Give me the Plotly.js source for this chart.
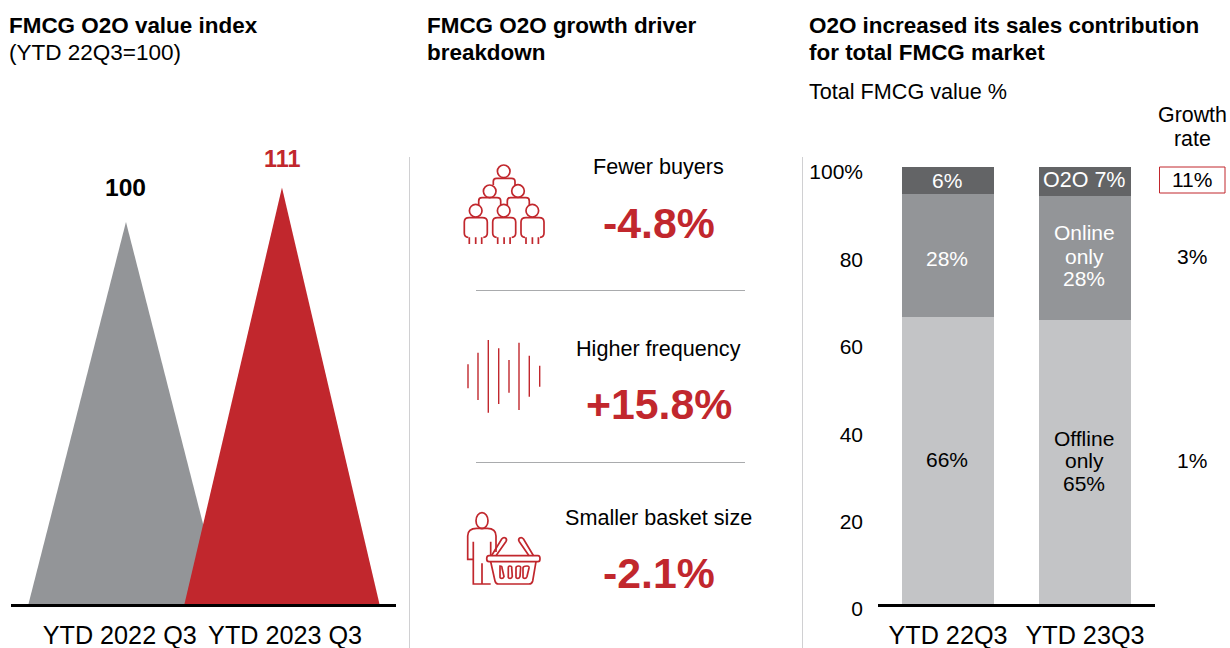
<!DOCTYPE html>
<html><head><meta charset="utf-8">
<script src="https://cdn.plot.ly/plotly-3.0.1.min.js"></script>
<style>html,body{margin:0;padding:0;background:#fff}</style></head>
<body><div id="chart" style="width:1230px;height:648px"></div>
<script>
// ---- data ----
const indexPeriods = ['YTD 2022 Q3', 'YTD 2023 Q3'];
const indexLabels = ['100', '111'];
const indexHeights = [100, 109];
const shareCategories = ['YTD 22Q3', 'YTD 23Q3'];
const offlineShare = [65.7, 65.0];
const onlineShare = [28.1, 28.4];
const o2oShare = [6.2, 6.6];
const shareTicks = [0, 20, 40, 60, 80, 100];
const shareTickText = ['0', '20', '40', '60', '80', '100%'];
const growthRates = ['11%', '3%', '1%'];
const driverNames = ['Fewer buyers', 'Higher frequency', 'Smaller basket size'];
const driverValues = ['-4.8%', '+15.8%', '-2.1%'];

// ---- style ----
const RED = '#c1272d', GREY = '#939598', DARK = '#636466', LIGHT = '#c3c4c6', INK = '#000000';
const FONT = '"Liberation Sans", Arial, sans-serif';
const W = 1230, H = 648;
const dx = (a, b) => [a / W, b / W];
const dy = (top, bot) => [1 - bot / H, 1 - top / H];

// ---- text helper (page-pixel overlay axes) ----
const anns = [];
function txt(t, x, y, size, o = {}) {
  const left = o.anchor === 'left';
  anns.push({ text: o.bold ? '<b>' + t + '</b>' : t, x: left ? x - 2 : x, y: y - 1, xref: 'x4', yref: 'y4',
    xanchor: o.anchor || 'center', yanchor: 'middle', showarrow: false,
    font: { family: FONT, size, color: o.color || INK } });
}
// titles
txt('FMCG O2O value index', 9, 26, 22.45, { bold: 1, anchor: 'left' });
txt('(YTD 22Q3=100)', 9, 53, 22.5, { anchor: 'left' });
txt('FMCG O2O growth driver', 427, 26, 22.45, { bold: 1, anchor: 'left' });
txt('breakdown', 427, 53, 22.45, { bold: 1, anchor: 'left' });
txt('O2O increased its sales contribution', 809, 26, 22.45, { bold: 1, anchor: 'left' });
txt('for total FMCG market', 809, 53, 22.45, { bold: 1, anchor: 'left' });
txt('Total FMCG value %', 809, 92, 21.6, { anchor: 'left' });
txt('Growth', 1192, 116, 21.4); txt('rate', 1192, 140, 21.4);
// triangle labels
txt(indexLabels[0], 125.5, 188, 24.6, { bold: 1 });
txt(indexLabels[1], 282, 160, 23.4, { bold: 1, color: RED });
// drivers
[[167, 224], [349, 405], [518, 574]].forEach((p, i) => {
  txt(driverNames[i], 658.5, p[0], 21.6);
  txt(driverValues[i], 658.5, p[1], 42.8, { bold: 1, color: RED });
});
// growth
[180, 257, 461].forEach((y, i) => txt(growthRates[i], 1192, y, 21));
// stacked bar labels
txt('6%', 947, 181, 21, { color: '#fff' });
txt('O2O 7%', 1084, 181, 21.5, { color: '#fff' });
txt('28%', 947, 259, 21, { color: '#fff' });
txt('Online', 1084, 233, 21, { color: '#fff' });
txt('only', 1084, 257, 21, { color: '#fff' });
txt('28%', 1084, 279, 21, { color: '#fff' });
txt('66%', 947, 460, 21);
txt('Offline', 1084, 439, 21);
txt('only', 1084, 461, 21);
txt('65%', 1084, 484, 21);

// ---- decorative shapes & icons ----
const shapes = [];
function line(x0, y0, x1, y1, color, width) {
  shapes.push({ type: 'line', xref: 'x4', yref: 'y4', x0, y0, x1, y1, line: { color, width } });
}
function icon(path, width = 1.7) {
  shapes.push({ type: 'path', xref: 'x4', yref: 'y4', path, line: { color: RED, width } });
}
function circlePath(cx, cy, rx, ry = rx) {
  const k = 0.5523, a = rx * k, b = ry * k;
  return `M ${cx - rx} ${cy} C ${cx - rx} ${cy - b} ${cx - a} ${cy - ry} ${cx} ${cy - ry} ` +
    `C ${cx + a} ${cy - ry} ${cx + rx} ${cy - b} ${cx + rx} ${cy} ` +
    `C ${cx + rx} ${cy + b} ${cx + a} ${cy + ry} ${cx} ${cy + ry} ` +
    `C ${cx - a} ${cy + ry} ${cx - rx} ${cy + b} ${cx - rx} ${cy} Z`;
}
line(409.5, 157, 409.5, 648, '#d0d0d2', 1);
line(802.5, 157, 802.5, 648, '#d0d0d2', 1);
line(476, 290.5, 745, 290.5, '#a9abad', 1);
line(476, 462.5, 745, 462.5, '#a9abad', 1);
shapes.push({ type: 'rect', xref: 'x4', yref: 'y4', x0: 1159.5, x1: 1225, y0: 167, y1: 193,
  line: { color: RED, width: 1 } });

// people icon
[[503.7, 171.3], [489.7, 191.3], [518, 191], [475.7, 210.7], [503.7, 210.7], [532.3, 210.7]]
  .forEach(c => icon(circlePath(c[0], c[1], 6.3)));
[464.3, 492.7, 521].forEach(x0 => {
  icon(`M ${x0 + 4} 237.3 Q ${x0} 237.3 ${x0} 233 V 222 Q ${x0} 217.7 ${x0 + 5} 217.7 H ${x0 + 18} Q ${x0 + 23} 217.7 ${x0 + 23} 222 V 233 Q ${x0 + 23} 237.3 ${x0 + 19} 237.3`);
  icon(`M ${x0 + 5} 237.3 V 244 M ${x0 + 11.4} 237.3 V 244 M ${x0 + 17.4} 237.3 V 244`);
});
icon('M 493.3 185 V 181.5 Q 493.3 178.3 496.5 178.3 H 511.5 Q 515 178.3 515 181.5 V 185');
icon('M 478.7 205 V 201 Q 478.7 197.7 482 197.7 H 497 Q 500.7 197.7 500.7 201 V 205');
icon('M 507.3 205 V 201 Q 507.3 197.7 510.5 197.7 H 526 Q 529.3 197.7 529.3 201 V 205');

// sound-wave icon
[[468, 364.3, 388.3], [478, 352.7, 400], [488.3, 340, 412.7], [498.7, 348.3, 404],
 [509, 360, 392.7], [519, 342.7, 410], [529.3, 355.7, 396.7], [539.7, 365.7, 386.7]]
  .forEach(b => line(b[0], b[1], b[0], b[2], RED, 1.4));

// person with basket icon
icon(circlePath(482, 520.7, 6, 8));
icon('M 473.3 559.3 H 467.7 V 536 Q 467.7 528.3 476.7 528.3 H 487.3 Q 496 528.3 496 536 V 552');
icon('M 473.3 541.7 V 584 H 490.7 M 482 563.3 V 584 M 490.7 541.7 V 555');
icon('M 489 555.7 H 538 Q 540 555.7 540 558.7 Q 540 561.7 538 561.7 H 489 Q 486.7 561.7 486.7 558.7 Q 486.7 555.7 489 555.7 Z');
icon('M 490.7 561.7 L 495 581 Q 495.7 584 498.5 584 H 529 Q 532 584 532.7 581 L 536 561.7');
[501, 510, 518.3, 526].forEach((x, i) => {
  const s = [-1, -0.3, 0.3, 1][i];
  icon(`M ${x - 2 - s} 568 Q ${x - 2 - s} 566 ${x + s} 566 Q ${x + 2.4 + s} 566 ${x + 2 + s} 568 L ${x + 2 - s} 576.5 Q ${x + 1.5 - s} 578.3 ${x - s} 578.3 Q ${x - 2.4 - s} 578.3 ${x - 2 - s} 576.5 Z`);
});
icon('M 491.5 555.7 L 501.7 539 Q 503.5 536.8 505.5 538 Q 507.3 539.5 506 541.5 L 496 555.7');
icon('M 533.5 555.7 L 523.5 539 Q 521.7 536.8 519.7 538 Q 517.9 539.5 519.2 541.5 L 529 555.7');

// ---- traces ----
const halfBase = 0.625;
const traces = [];
indexHeights.forEach((h, i) => {
  traces.push({ type: 'scatter', mode: 'none', fill: 'toself', fillcolor: i === 0 ? GREY : RED,
    x: [i - halfBase, i, i + halfBase], y: [0, h, 0], xaxis: 'x', yaxis: 'y',
    name: indexPeriods[i], hoverinfo: 'name', showlegend: false });
});
[[offlineShare, LIGHT, 'Offline only'], [onlineShare, GREY, 'Online only'], [o2oShare, DARK, 'O2O']].forEach(s => {
  traces.push({ type: 'bar', x: shareCategories, y: s[0], width: 0.672, marker: { color: s[1], line: { width: 0 } },
    name: s[2], xaxis: 'x3', yaxis: 'y3', showlegend: false });
});
traces.push({ type: 'scatter', mode: 'markers', x: [0], y: [0], xaxis: 'x4', yaxis: 'y4',
  marker: { opacity: 0, size: 1 }, hoverinfo: 'skip', showlegend: false });

// ---- layout ----
const tickFont = { family: FONT, size: 25.2, color: INK };
const layout = {
  width: W, height: H, autosize: false, showlegend: false,
  margin: { l: 0, r: 0, t: 0, b: 0 }, paper_bgcolor: '#fff', plot_bgcolor: 'rgba(0,0,0,0)',
  barmode: 'stack', bargap: 0,
  xaxis: { domain: dx(11, 396), anchor: 'y', range: [-0.737, 1.731], tickvals: [-0.04, 1.02], ticktext: indexPeriods,
    showline: true, linecolor: '#000', linewidth: 2.5, showgrid: false, zeroline: false, ticks: '',
    ticklabelstandoff: 7, tickfont: tickFont, tickangle: 0 },
  yaxis: { domain: dy(157, 604), anchor: 'x', range: [0, 117], visible: false, showgrid: false, zeroline: false },
  xaxis3: { domain: dx(878, 1155), anchor: 'y3', type: 'category', range: [-0.511, 1.511],
    showline: true, linecolor: '#000', linewidth: 2.5, showgrid: false, zeroline: false, ticks: '',
    ticklabelstandoff: 7, tickfont: tickFont, tickangle: 0 },
  yaxis3: { domain: dy(167, 604), anchor: 'x3', range: [0, 100], tickvals: shareTicks, ticktext: shareTickText,
    showline: false, showgrid: false, zeroline: false, ticks: '', ticklabelstandoff: 14, ticklabelshift: 5,
    tickfont: { family: FONT, size: 21, color: INK } },
  xaxis4: { domain: [0, 1], anchor: 'y4', range: [0, W], visible: false, fixedrange: true },
  yaxis4: { domain: [0, 1], anchor: 'x4', range: [H, 0], visible: false, fixedrange: true },
  annotations: anns, shapes
};
Plotly.newPlot('chart', traces, layout, { displayModeBar: false, staticPlot: true });
</script></body></html>
